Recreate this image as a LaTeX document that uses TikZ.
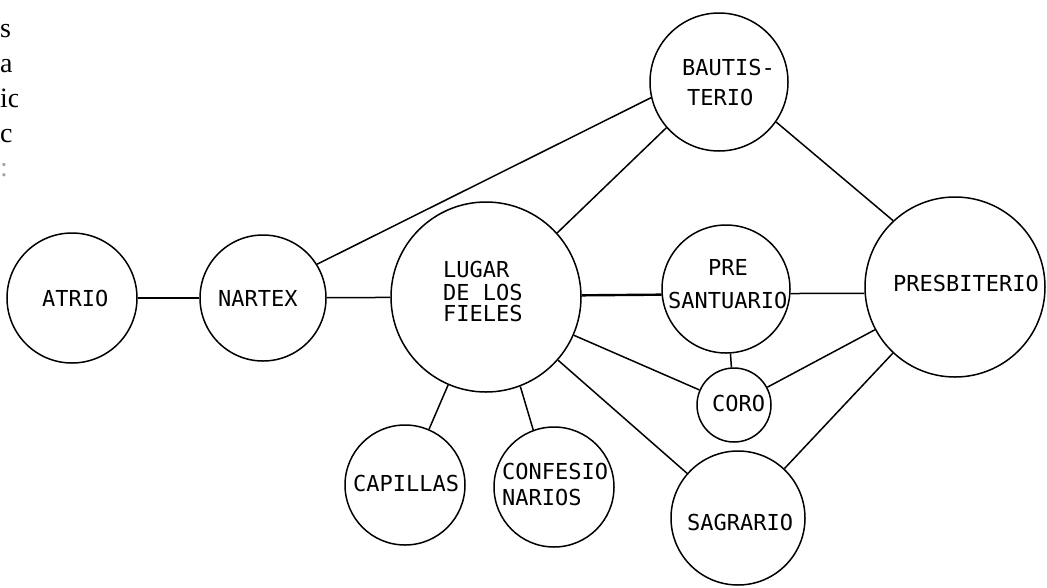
\documentclass[tikz,border=0pt]{standalone}
\usepackage{fontspec}
\setmainfont{Liberation Serif}
\newfontfamily\dmono{DejaVu Sans Mono}
\begin{document}
\begin{tikzpicture}[x=1pt,y=-1pt,
  room/.style={draw,circle,inner sep=0pt,line width=1.5pt,minimum size=#1},
  lbl/.style={anchor=base west,inner sep=0pt,font=\dmono\fontsize{22}{26}\selectfont},
  link/.style={line width=1.5pt},
  frag/.style={anchor=base west,inner sep=0pt,font=\fontsize{28}{32}\selectfont}]
\useasboundingbox (0,0) rectangle (1047,587);
% cropped text fragments
\begin{scope}
\clip (0,0) rectangle (17,200);
\node[frag] (f1) at (0,37) {s};
\node[frag] (f2) at (0,72) {a};
\node[frag] (f3) at (0,107) {ic};
\node[frag] (f4) at (0,142) {c};
\node[frag,text=black!35] (f5) at (0,176) {:};
\end{scope}
% rooms
\node[room=130pt] (atrio) at (72,298) {};
\node[room=126pt] (nartex) at (263,298) {};
\node[room=190pt] (lugar) at (486,297) {};
\node[room=138pt] (baut) at (719,82) {};
\node[room=128pt] (presant) at (726,289) {};
\node[room=180pt] (presb) at (955,287) {};
\node[room=74pt] (coro) at (734,405) {};
\node[room=120pt] (capillas) at (405,485) {};
\node[room=120pt] (confes) at (554,487) {};
\node[room=134pt] (sagr) at (738,518) {};
% labels
\node[lbl] (t1) at (42,306) {ATRIO};
\node[lbl] (t2) at (218,306) {NARTEX};
\node[lbl] (t3a) at (443,277) {LUGAR};
\node[lbl] (t3b) at (443,300) {DE LOS};
\node[lbl] (t3c) at (443,321) {FIELES};
\node[lbl] (t4a) at (682,75) {BAUTIS-};
\node[lbl] (t4b) at (687,105) {TERIO};
\node[lbl] (t5a) at (708,275) {PRE};
\node[lbl] (t5b) at (668,308) {SANTUARIO};
\node[lbl] (t6) at (893,291) {PRESBITERIO};
\node[lbl] (t7) at (712,411) {CORO};
\node[lbl] (t8) at (353,491) {CAPILLAS};
\node[lbl] (t9a) at (502,479) {CONFESIO};
\node[lbl] (t9b) at (502,505) {NARIOS};
\node[lbl] (t10) at (687,530) {SAGRARIO};
% connectors
\draw[link] (atrio) -- (nartex);
\draw[link] (nartex) -- (lugar);
\draw[link] (nartex.32) -- (baut.193);
\draw[link] (lugar.42) -- (baut.221);
\draw[link] (baut.-35) -- (presb.133);
\draw[link,line width=2.4pt] (lugar.1) -- (presant.185);
\draw[link] (presant.-4) -- (presb.184);
\draw[link] (presant) -- (coro);
\draw[link] (lugar) -- (coro);
\draw[link] (coro) -- (presb);
\draw[link] (lugar) -- (sagr);
\draw[link] (sagr) -- (presb);
\draw[link] (lugar) -- (capillas);
\draw[link] (lugar.-69) -- (confes.110);
\end{tikzpicture}
\end{document}
